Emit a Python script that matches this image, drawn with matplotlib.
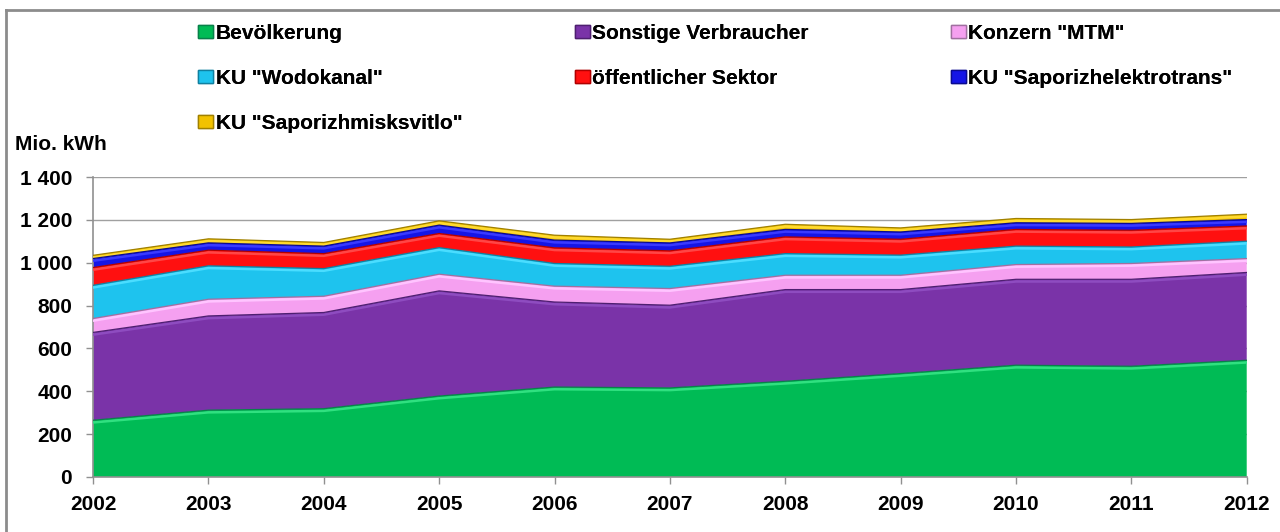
import matplotlib.pyplot as plt
import matplotlib.patheffects as pe
from matplotlib.patches import Patch
import numpy as np

plt.rcParams['font.family'] = ['Liberation Sans', 'DejaVu Sans']
plt.rcParams['font.weight'] = 'bold'

years = [2002, 2003, 2004, 2005, 2006, 2007, 2008, 2009, 2010, 2011, 2012]

bevoelkerung = [265, 312, 319, 378, 420, 416, 447, 483, 522, 517, 545]
sonstige = [410, 440, 449, 491, 397, 386, 428, 392, 401, 406, 410]
mtm = [65, 78, 76, 78, 74, 78, 67, 67, 69, 74, 65]
wodokanal = [155, 156, 129, 124, 106, 104, 101, 94, 86, 77, 81]
oeffentlich = [83, 73, 70, 66, 73, 72, 78, 74, 78, 78, 71]
elektrotrans = [42, 34, 35, 39, 36, 37, 35, 34, 31, 32, 30]
misksvitlo = [15, 19, 17, 20, 23, 17, 24, 19, 20, 18, 25]

labels = ['Bevölkerung', 'Sonstige Verbraucher', 'Konzern "MTM"', 'KU "Wodokanal"',
          'öffentlicher Sektor', 'KU "Saporizhelektrotrans"', 'KU "Saporizhmisksvitlo"']
colors = ['#00BB55', '#7A33A8', '#F5A0F0', '#1EC3EE', '#FF1010', '#1515E6', '#F2C200']
lights = ['#30E080', '#8E4CC0', '#FFC4FF', '#4ADDFF', '#FF4646', '#3A3AFF', '#FFDA30']
edges = ['#08804A', '#4E1F70', '#A070A0', '#1080A0', '#B00000', '#0A0A90', '#A08000']

fig = plt.figure(figsize=(12.8, 5.32), dpi=100)
ax = fig.add_axes([0.0727, 0.1034, 0.9013, 0.5636])

series = [bevoelkerung, sonstige, mtm, wodokanal, oeffentlich, elektrotrans, misksvitlo]
polys = ax.stackplot(years, *series, colors=colors, zorder=2)
for p in polys:
    p.set_linewidth(0)

# light bevel just under each band's upper edge, then a thin dark edge
tops = np.cumsum(series, axis=0)
for top, lc in zip(tops, lights):
    ax.plot(years, top, color=lc, lw=1.8, zorder=3, solid_joinstyle='round',
            path_effects=[pe.Stroke(offset=(0, -1.6), linewidth=1.8, foreground=lc)])
for top, ec in zip(tops, edges):
    ax.plot(years, top, color=ec, lw=0.9, zorder=4)

ax.set_xlim(2002, 2012)
ax.set_ylim(0, 1400)
ax.set_xticks(years)
ax.set_yticks(range(0, 1401, 200))
ax.set_yticklabels([f'{v:,}'.replace(',', ' ') for v in range(0, 1401, 200)])
ax.tick_params(labelsize=15, color='#909090', length=5, width=1)
ax.tick_params(axis='y', pad=10)
ax.tick_params(axis='x', pad=8)
ax.grid(axis='y', color='#A0A0A0', linewidth=1, zorder=0)
ax.set_axisbelow(True)
for s in ['top', 'right']:
    ax.spines[s].set_visible(False)
for s in ['left', 'bottom']:
    ax.spines[s].set_color('#909090')
    ax.spines[s].set_linewidth(1.2)

fig.text(15 / 1280, 1 - 145 / 532, 'Mio. kWh', fontsize=15, fontweight='bold', va='center')

# one legend per column, placed like the original
columns = [[0, 3, 6], [1, 4], [2, 5]]
col_x = [198, 575, 951]
for idx, x in zip(columns, col_x):
    handles = [Patch(facecolor=colors[i], edgecolor=edges[i]) for i in idx]
    leg = fig.legend(handles, [labels[i] for i in idx], loc='upper left',
                     bbox_to_anchor=(x / 1280, 1 - 24 / 532), frameon=False,
                     fontsize=15, handlelength=0.72, handleheight=0.55,
                     handletextpad=0.12, labelspacing=1.25, borderaxespad=0,
                     borderpad=0)
    fig.add_artist(leg)

# frame: only the top and left edges show in the cropped original
fig.add_artist(plt.Line2D([6 / 1280, 1], [1 - 10 / 532, 1 - 10 / 532],
                          transform=fig.transFigure, color='#8C8C8C', lw=2))
fig.add_artist(plt.Line2D([6 / 1280, 6 / 1280], [0, 1 - 10 / 532],
                          transform=fig.transFigure, color='#8C8C8C', lw=2))

fig.savefig('out.png', dpi=100)
